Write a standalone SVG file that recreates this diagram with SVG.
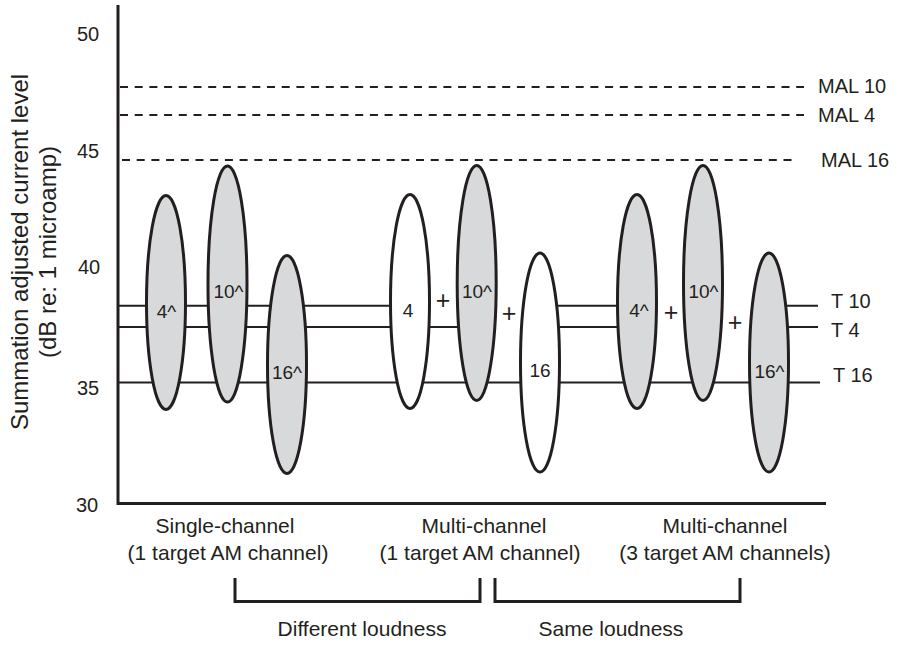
<svg xmlns="http://www.w3.org/2000/svg" width="898" height="646" viewBox="0 0 898 646">
<style>
text{font-family:"Liberation Sans",Arial,sans-serif;fill:#231f20}
.tick{font-size:20px;text-anchor:middle}
.lab{font-size:21px;text-anchor:middle}
.ref{font-size:20px}
.el{font-size:19px;text-anchor:middle}
.plus{font-size:25px;text-anchor:middle}
.axis{fill:none;stroke:#231f20;stroke-width:3}
.dash{stroke:#231f20;stroke-width:2;stroke-dasharray:8 6.7;fill:none}
.thr{stroke:#231f20;stroke-width:2;fill:none}
.g{fill:#d8d9da;stroke:#231f20;stroke-width:3}
.w{fill:#ffffff;stroke:#231f20;stroke-width:3}
.br{fill:none;stroke:#231f20;stroke-width:3}
</style>
<rect width="898" height="646" fill="#ffffff"/>
<g id="y-axis-label">
<text transform="translate(28,252) rotate(-90)" style="font-size:24px;text-anchor:middle">Summation adjusted current level</text>
<text transform="translate(56,252) rotate(-90)" style="font-size:24px;text-anchor:middle">(dB re: 1 microamp)</text>
</g>
<g id="ticks">
<text class="tick" x="88" y="41">50</text>
<text class="tick" x="88" y="158">45</text>
<text class="tick" x="89" y="274">40</text>
<text class="tick" x="88" y="395">35</text>
<text class="tick" x="87" y="512">30</text>
</g>
<g id="connectors">
<path class="axis" d="M118 5 V503.5 H826"/>
<line class="dash" x1="120" y1="87" x2="804" y2="87"/>
<line class="dash" x1="120" y1="115" x2="804" y2="115"/>
<line class="dash" x1="122" y1="160" x2="797" y2="160"/>
<path class="thr" d="M118 305.7 H410 M540 305.7 H637 M769 305.7 H818"/>
<path class="thr" d="M117 327 H476 M540 327 H637 M769 327 H818"/>
<path class="thr" d="M118 382.5 H820"/>
</g>
<g id="mal-labels">
<text class="ref" x="818" y="93">MAL 10</text>
<text class="ref" x="818" y="122">MAL 4</text>
<text class="ref" x="821" y="167">MAL 16</text>
</g>
<g id="t-labels">
<text class="ref" x="831" y="308">T 10</text>
<text class="ref" x="831" y="337">T 4</text>
<text class="ref" x="833" y="382">T 16</text>
</g>
<g id="single-4">
<ellipse class="g" cx="166" cy="302.5" rx="19.5" ry="107"/>
<text class="el" x="166.5" y="318">4^</text>
</g>
<g id="single-10">
<ellipse class="g" cx="227.5" cy="284" rx="19.5" ry="118"/>
<text class="el" x="228.5" y="298">10^</text>
</g>
<g id="single-16">
<ellipse class="g" cx="287" cy="364.5" rx="19.5" ry="109"/>
<text class="el" x="287" y="379">16^</text>
</g>
<g id="multi1-4">
<ellipse class="w" cx="410" cy="301.5" rx="19.5" ry="107"/>
<text class="el" x="408" y="317">4</text>
</g>
<g id="multi1-10">
<ellipse class="g" cx="476.7" cy="283" rx="19.5" ry="117.5"/>
<text class="el" x="477" y="298">10^</text>
</g>
<g id="multi1-16">
<ellipse class="w" cx="540" cy="362.5" rx="19.5" ry="109.5"/>
<text class="el" x="540" y="377">16</text>
</g>
<g id="multi3-4">
<ellipse class="g" cx="637" cy="301.5" rx="19.5" ry="107"/>
<text class="el" x="639" y="317">4^</text>
</g>
<g id="multi3-10">
<ellipse class="g" cx="703" cy="283" rx="19.5" ry="117.5"/>
<text class="el" x="703.5" y="298">10^</text>
</g>
<g id="multi3-16">
<ellipse class="g" cx="769" cy="362.5" rx="19.5" ry="109.5"/>
<text class="el" x="769.5" y="378">16^</text>
</g>
<g id="plus-signs">
<text class="plus" x="443" y="309">+</text>
<text class="plus" x="509" y="322">+</text>
<text class="plus" x="671" y="321">+</text>
<text class="plus" x="735" y="331">+</text>
</g>
<g id="group-labels">
<text class="lab" x="225" y="533">Single-channel</text>
<text class="lab" x="228" y="560">(1 target AM channel)</text>
<text class="lab" x="484" y="533">Multi-channel</text>
<text class="lab" x="480" y="560">(1 target AM channel)</text>
<text class="lab" x="725" y="533">Multi-channel</text>
<text class="lab" x="725" y="560">(3 target AM channels)</text>
</g>
<g id="brackets">
<path class="br" d="M235 578 V601.5 H480 V578"/>
<path class="br" d="M495 578 V601.5 H740 V578"/>
<text class="lab" x="362" y="636">Different loudness</text>
<text class="lab" x="611" y="636">Same loudness</text>
</g>
</svg>
